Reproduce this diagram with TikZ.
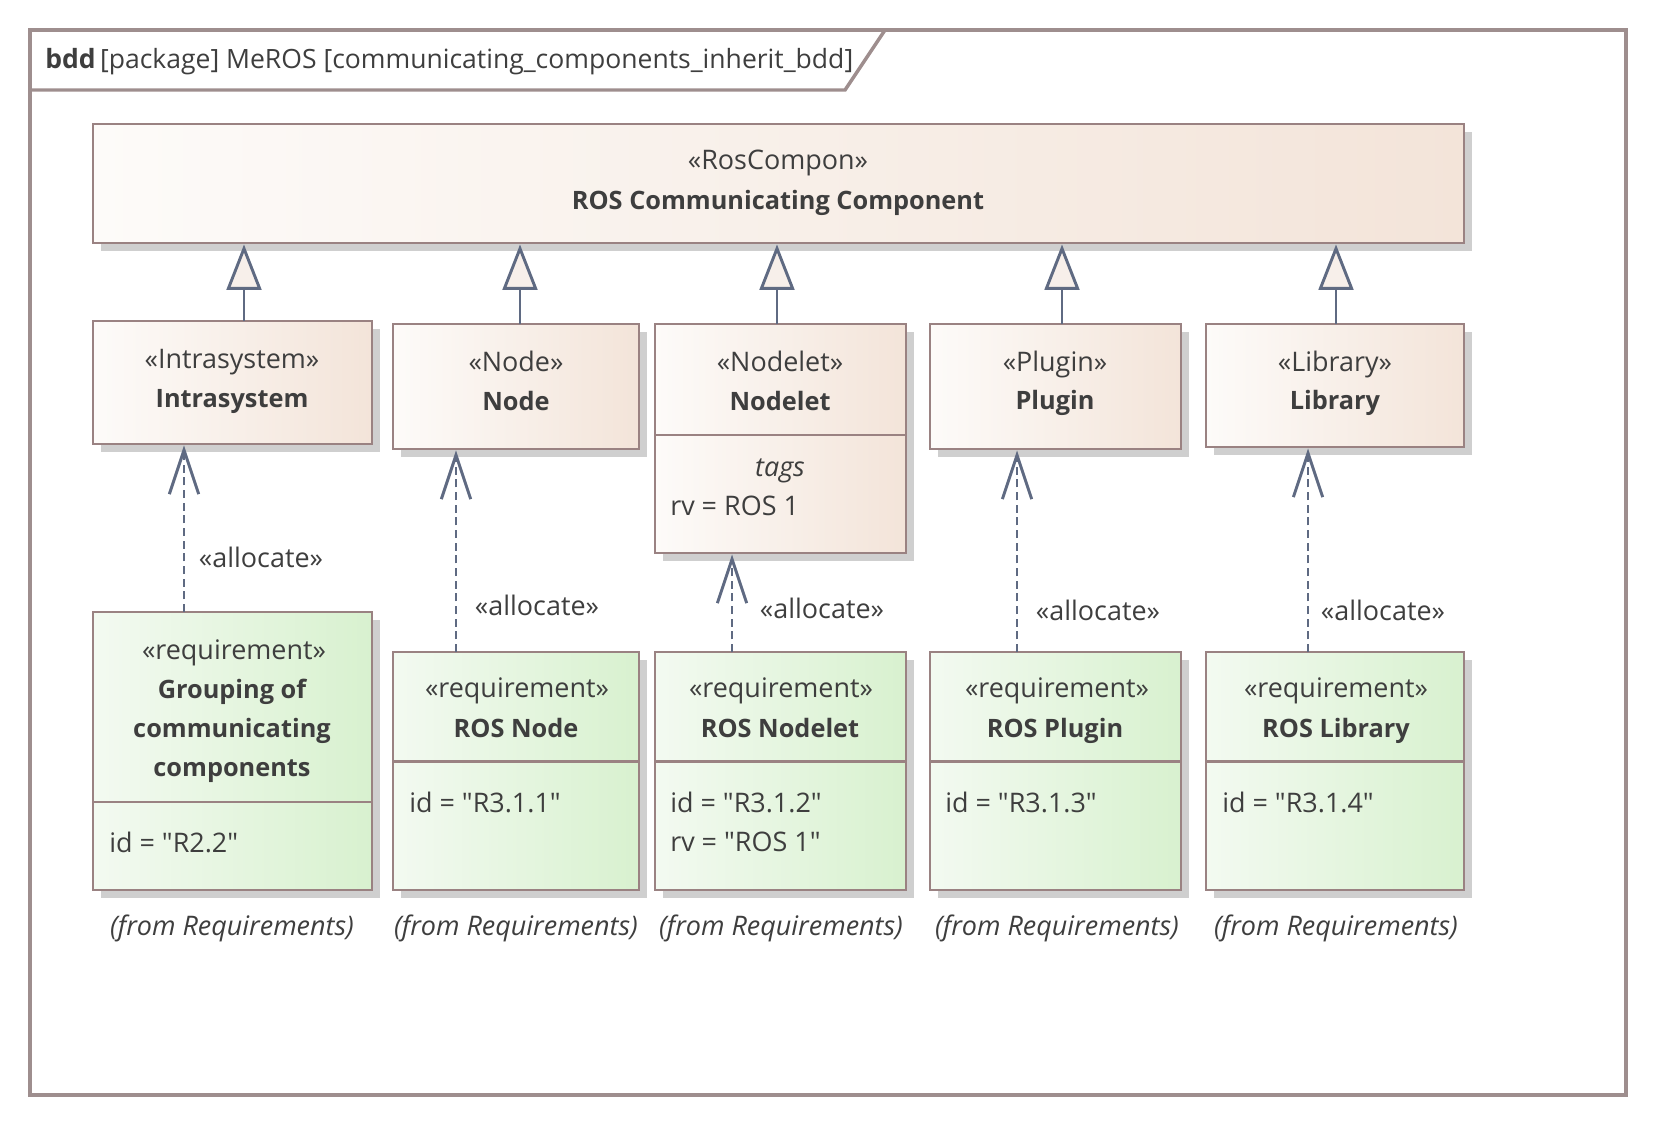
\documentclass[tikz,border=0pt]{standalone}
\usepackage{fontspec}
\setmainfont{Open Sans}
\usetikzlibrary{arrows.meta,positioning,shadows,fit}

\definecolor{boxedge}{HTML}{9A8282}
\definecolor{framegray}{HTML}{9E8E8E}
\definecolor{linkblue}{HTML}{5F6A82}
\definecolor{inkgray}{HTML}{3E3E3E}
\definecolor{peachlight}{HTML}{FDFBF9}
\definecolor{peachdark}{HTML}{F3E4D9}
\definecolor{greenlight}{HTML}{F3FAF1}
\definecolor{greendark}{HTML}{D8F1CF}
\definecolor{shadowgray}{HTML}{CFCFCF}
\definecolor{tipfill}{HTML}{F7EFEA}

\newcommand{\qt}{\textquotedbl}

\tikzset{
  boxbase/.style={draw=boxedge, line width=2.2pt, inner sep=0pt,
    drop shadow={fill=shadowgray, opacity=1, shadow xshift=6pt, shadow yshift=-6pt}},
  blockbox/.style={boxbase, left color=peachlight, right color=peachdark},
  reqbox/.style={boxbase, left color=greenlight, right color=greendark},
  divline/.style={draw=boxedge, line width=2.2pt},
  framepen/.style={draw=framegray, line width=2.6pt},
  basetext/.style={text=inkgray, inner sep=0pt, font=\fontsize{20.2}{29.25}\selectfont},
  sterlabel/.style={basetext},
  boldlabel/.style={basetext, font=\fontsize{19}{29.25}\selectfont\bfseries, align=center},
  attrlabel/.style={basetext, anchor=west},
  fromlabel/.style={basetext, font=\fontsize{20.2}{29.25}\selectfont\itshape},
  genarrow/.style={draw=linkblue, line width=2.2pt,
    -{Triangle[fill=tipfill, length=34pt, width=26pt, line width=2.2pt]}},
  allocarrow/.style={draw=linkblue, line width=2.2pt, dash pattern=on 6pt off 3.5pt,
    -{Straight Barb[length=33pt, width=22pt, line width=2.2pt]}},
}

\begin{document}
\begin{tikzpicture}[x=0.75pt, y=-0.75pt]
			%%%%% FRAME %%%%%
			\useasboundingbox (0,0) rectangle (1656,1125);
			\draw[framepen] (30,30) rectangle (1626,1095);
			\draw[framepen] (30,90) -- (845,90) -- (885,30);
			\node[basetext, anchor=west, font=\fontsize{19.9}{24}\selectfont] (title) at (45,62) {\textbf{bdd}\,[package] MeROS [communicating\_components\_inherit\_bdd]};
			
			%%%%% BLOCKS %%%%%
			\node[blockbox, fit={(93,124) (1464,243)}] (roscomp) {};
			\node[sterlabel] (roscompster) at (778,163) {«RosCompon»};
			\node[boldlabel] (roscompname) at (778,203) {ROS Communicating Component};
			
			\node[blockbox, fit={(93,321) (372,444)}] (intra) {};
			\node[sterlabel] (intraster) at (232,362) {«Intrasystem»};
			\node[boldlabel] (intraname) at (232,401) {Intrasystem};
			
			\node[blockbox, fit={(393,324) (639,449)}] (rosnode) {};
			\node[sterlabel] (rosnodester) at (516,361) {«Node»};
			\node[boldlabel] (rosnodename) at (516,401) {Node};
			
			\node[blockbox, fit={(655,324) (906,553)}] (nodelet) {};
			\draw[divline] (655,435) -- (906,435);
			\node[sterlabel] (nodeletster) at (780,361) {«Nodelet»};
			\node[boldlabel] (nodeletname) at (780,401) {Nodelet};
			\node[fromlabel] (nodelettags) at (780,471) {tags};
			\node[attrlabel] (nodeletrv) at (670,506) {rv = ROS 1};
			
			\node[blockbox, fit={(930,324) (1181,449)}] (plugin) {};
			\node[sterlabel] (pluginster) at (1055,364) {«Plugin»};
			\node[boldlabel] (pluginname) at (1055,403) {Plugin};
			
			\node[blockbox, fit={(1206,324) (1464,447)}] (library) {};
			\node[sterlabel] (libraryster) at (1335,364) {«Library»};
			\node[boldlabel] (libraryname) at (1335,403) {Library};
			
			%%%%% REQUIREMENTS %%%%%
			\node[reqbox, fit={(93,612) (372,890)}] (reqgroup) {};
			\draw[divline] (93,802) -- (372,802);
			\node[sterlabel] (reqgroupster) at (234,652.7) {«requirement»};
			\node[boldlabel] (reqgroupname) at (232,731) {Grouping of\\communicating\\components};
			\node[attrlabel] (reqgroupid) at (109,842) {id = \qt R2.2\qt};
			\node[fromlabel] (reqgroupfrom) at (232,928) {(from Requirements)};
			
			\node[reqbox, fit={(393,652) (639,890)}] (reqnode) {};
			\draw[divline] (393,761.5) -- (639,761.5);
			\node[sterlabel] (reqnodester) at (517,690.7) {«requirement»};
			\node[boldlabel] (reqnodename) at (516,727.7) {ROS Node};
			\node[attrlabel] (reqnodeid) at (409,802.6) {id = \qt R3.1.1\qt};
			\node[fromlabel] (reqnodefrom) at (516,928) {(from Requirements)};
			
			\node[reqbox, fit={(655,652) (906,890)}] (reqnodelet) {};
			\draw[divline] (655,761.5) -- (906,761.5);
			\node[sterlabel] (reqnodeletster) at (781,690.7) {«requirement»};
			\node[boldlabel] (reqnodeletname) at (780,727.7) {ROS Nodelet};
			\node[attrlabel] (reqnodeletid) at (670,802.6) {id = \qt R3.1.2\qt};
			\node[attrlabel] (reqnodeletrv) at (670,841.7) {rv = \qt ROS 1\qt};
			\node[fromlabel] (reqnodeletfrom) at (781,928) {(from Requirements)};
			
			\node[reqbox, fit={(930,652) (1181,890)}] (reqplugin) {};
			\draw[divline] (930,761.5) -- (1181,761.5);
			\node[sterlabel] (reqpluginster) at (1057,690.7) {«requirement»};
			\node[boldlabel] (reqpluginname) at (1055,730.9) {ROS Plugin};
			\node[attrlabel] (reqpluginid) at (945,802.6) {id = \qt R3.1.3\qt};
			\node[fromlabel] (reqpluginfrom) at (1057,928) {(from Requirements)};
			
			\node[reqbox, fit={(1206,652) (1464,890)}] (reqlibrary) {};
			\draw[divline] (1206,761.5) -- (1464,761.5);
			\node[sterlabel] (reqlibraryster) at (1336,690.7) {«requirement»};
			\node[boldlabel] (reqlibraryname) at (1336,730.9) {ROS Library};
			\node[attrlabel] (reqlibraryid) at (1222,802.6) {id = \qt R3.1.4\qt};
			\node[fromlabel] (reqlibraryfrom) at (1336,928) {(from Requirements)};
			
			%%%%% GENERALIZATIONS %%%%%
			\coordinate (genintra) at (244,321);
			\coordinate (gennode) at (520,324);
			\coordinate (gennodelet) at (777,324);
			\coordinate (genplugin) at (1062,324);
			\coordinate (genlibrary) at (1336,324);
			\draw[genarrow] (genintra) -- (genintra |- roscomp.south);
			\draw[genarrow] (gennode) -- (gennode |- roscomp.south);
			\draw[genarrow] (gennodelet) -- (gennodelet |- roscomp.south);
			\draw[genarrow] (genplugin) -- (genplugin |- roscomp.south);
			\draw[genarrow] (genlibrary) -- (genlibrary |- roscomp.south);
			
			%%%%% ALLOCATIONS %%%%%
			\coordinate (allocgroup) at (184,612);
			\coordinate (allocnode) at (456,652);
			\coordinate (allocnodelet) at (732,652);
			\coordinate (allocplugin) at (1017,652);
			\coordinate (alloclibrary) at (1308,652);
			\draw[allocarrow] (allocgroup) -- (allocgroup |- intra.south);
			\draw[allocarrow] (allocnode) -- (allocnode |- rosnode.south);
			\draw[allocarrow] (allocnodelet) -- (allocnodelet |- nodelet.south);
			\draw[allocarrow] (allocplugin) -- (allocplugin |- plugin.south);
			\draw[allocarrow] (alloclibrary) -- (alloclibrary |- library.south);
			\node[sterlabel] (allocgrouplabel) at (261,557) {«allocate»};
			\node[sterlabel] (allocnodelabel) at (537,605) {«allocate»};
			\node[sterlabel] (allocnodeletlabel) at (822,608) {«allocate»};
			\node[sterlabel] (allocpluginlabel) at (1098,610) {«allocate»};
			\node[sterlabel] (alloclibrarylabel) at (1383,610) {«allocate»};
			
\end{tikzpicture}
\end{document}
